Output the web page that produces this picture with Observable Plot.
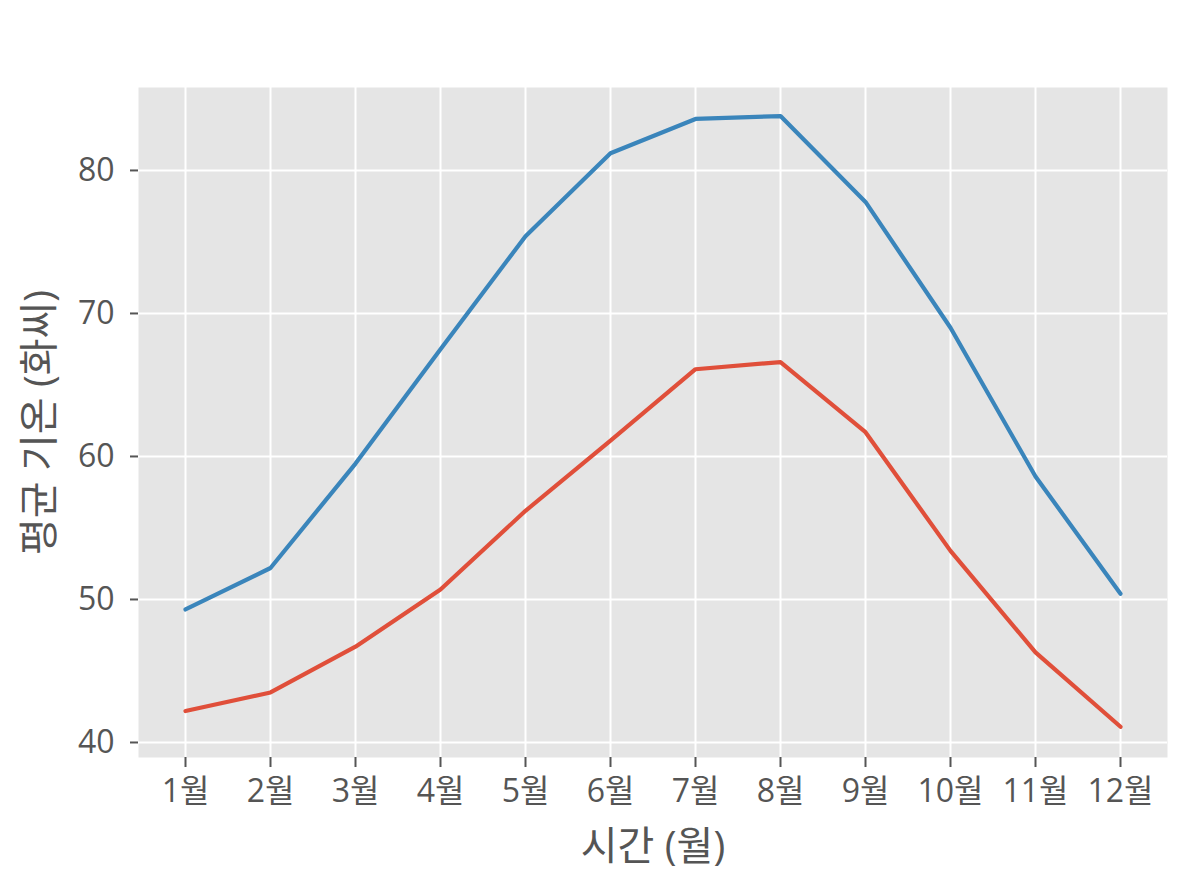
<!DOCTYPE html>
<html>
<head>
<meta charset="utf-8">
<script src="https://cdn.jsdelivr.net/npm/d3@7"></script>
<script src="https://cdn.jsdelivr.net/npm/@observablehq/plot@0.6"></script>
<style>
  html, body { margin: 0; padding: 0; background: #ffffff; }
  #chart { width: 1200px; height: 880px; }
</style>
</head>
<body>
<div id="chart"></div>
<script>
const months = ["1월","2월","3월","4월","5월","6월","7월","8월","9월","10월","11월","12월"];
const highTemps = [49.3, 52.2, 59.5, 67.5, 75.4, 81.2, 83.6, 83.8, 77.8, 69.0, 58.6, 50.4];
const lowTemps  = [42.2, 43.5, 46.7, 50.7, 56.2, 61.1, 66.1, 66.6, 61.7, 53.4, 46.3, 41.1];
const yTicks = [40, 50, 60, 70, 80];
const xLabel = "시간 (월)";
const yLabel = "평균 기온 (화씨)";

const high = months.map((m, i) => ({month: m, value: highTemps[i]}));
const low = months.map((m, i) => ({month: m, value: lowTemps[i]}));

const font = "'Open Sans', 'Noto Sans CJK KR', sans-serif";
const grey = "#555555";

const chart = Plot.plot({
  width: 1200,
  height: 880,
  marginLeft: 138,
  marginRight: 33,
  marginTop: 87,
  marginBottom: 123,
  style: {background: "#ffffff", color: grey, fontFamily: font},
  x: {type: "point", domain: months, padding: 0.527, label: null},
  y: {domain: [38.95, 85.8], label: null},
  marks: [
    Plot.frame({fill: "#e5e5e5", stroke: null}),
    Plot.gridX(months, {stroke: "#ffffff", strokeOpacity: 1, strokeWidth: 2}),
    Plot.gridY(yTicks, {stroke: "#ffffff", strokeOpacity: 1, strokeWidth: 2}),
    Plot.axisY(yTicks, {tickSize: 8, tickFormat: () => "", stroke: grey, strokeWidth: 2, label: null}),
    Plot.axisX(months, {tickSize: 10, tickFormat: () => "", stroke: grey, strokeWidth: 2, label: null}),
    Plot.text(yTicks, {y: (d) => d, frameAnchor: "left", dx: -24, textAnchor: "end", fontSize: 32, fill: grey, fontFamily: font}),
    Plot.text(months, {x: (d) => d, frameAnchor: "bottom", dy: 22, lineAnchor: "top", fontSize: 32, fill: grey, fontFamily: font}),
    Plot.line(high, {x: "month", y: "value", stroke: "#3a85bb", strokeWidth: 4.2}),
    Plot.line(low, {x: "month", y: "value", stroke: "#e04f3a", strokeWidth: 4.2}),
    Plot.text([xLabel], {frameAnchor: "bottom", dy: 102, fontSize: 40, fill: grey, fontFamily: font}),
    Plot.text([yLabel], {frameAnchor: "left", textAnchor: "middle", dx: -98, rotate: -90, fontSize: 40, fill: grey, fontFamily: font})
  ]
});
document.getElementById("chart").appendChild(chart);
</script>
</body>
</html>
